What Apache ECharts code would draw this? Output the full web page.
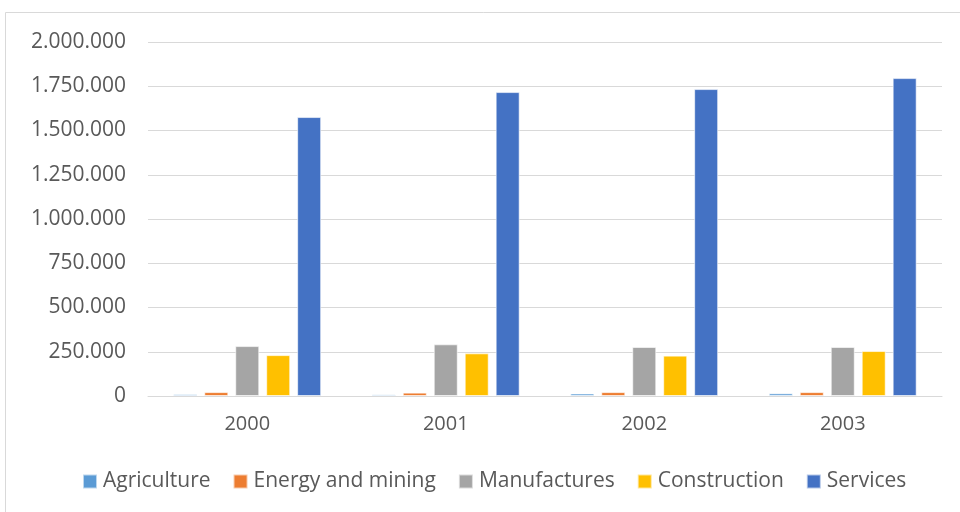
<!DOCTYPE html>
<html>
<head>
<meta charset="utf-8">
<script src="https://cdn.jsdelivr.net/npm/echarts@6/dist/echarts.min.js"></script>
<style>
  html, body { margin: 0; padding: 0; background: #fff; }
  #chart { width: 960px; height: 512px; }
</style>
</head>
<body>
<div id="chart"></div>
<script>
var years = ['2000', '2001', '2002', '2003']
var agriculture = [10000, 9000, 14000, 15000]
var energyMining = [22000, 19000, 22000, 22000]
var manufactures = [282000, 292000, 277000, 277000]
var construction = [231000, 241000, 228000, 254000]
var services = [1576000, 1717000, 1734000, 1796000]
var yTicks = [0, 250000, 500000, 750000, 1000000, 1250000, 1500000, 1750000, 2000000]

var FONT = 'Open Sans'
var TEXT_COLOR = '#595959'

function fmt(v) {
  return String(v).replace(/\B(?=(\d{3})+(?!\d))/g, '.')
}

var chart = echarts.init(document.getElementById('chart'))

function bar(name, data, color) {
  return {
    name: name,
    type: 'bar',
    data: data,
    barWidth: 24,
    barGap: '29%',
    itemStyle: { color: color, borderColor: 'rgba(255,255,255,0.6)', borderWidth: 1 }
  }
}

chart.setOption({
  backgroundColor: '#fff',
  animation: false,
  textStyle: { fontFamily: FONT },
  graphic: [{
    type: 'rect',
    shape: { x: 5.5, y: 12.5, width: 970, height: 520 },
    style: { fill: 'none', stroke: '#d9d9d9', lineWidth: 1 },
    silent: true
  }],
  legend: {
    top: 466,
    left: 77,
    itemWidth: 14,
    itemHeight: 14,
    itemGap: 22,
    icon: 'rect',
    textStyle: { color: TEXT_COLOR, fontSize: 21, fontFamily: FONT, padding: [0, 0, 0, 1] }
  },
  grid: {
    left: 148,
    right: 18,
    top: 42,
    bottom: 116
  },
  xAxis: {
    type: 'category',
    data: years,
    axisLine: { lineStyle: { color: '#d9d9d9', width: 1 } },
    axisTick: { show: false },
    axisLabel: { color: TEXT_COLOR, fontSize: 20, margin: 18 }
  },
  yAxis: {
    type: 'value',
    min: 0,
    max: yTicks[yTicks.length - 1],
    interval: yTicks[1] - yTicks[0],
    axisLine: { show: false },
    axisTick: { show: false },
    splitLine: { lineStyle: { color: '#d9d9d9', width: 1 } },
    axisLabel: { color: TEXT_COLOR, fontSize: 21, margin: 22, formatter: fmt }
  },
  series: [
    bar('Agriculture', agriculture, '#5B9BD5'),
    bar('Energy and mining', energyMining, '#ED7D31'),
    bar('Manufactures', manufactures, '#A5A5A5'),
    bar('Construction', construction, '#FFC000'),
    bar('Services', services, '#4472C4')
  ]
})
</script>
</body>
</html>
